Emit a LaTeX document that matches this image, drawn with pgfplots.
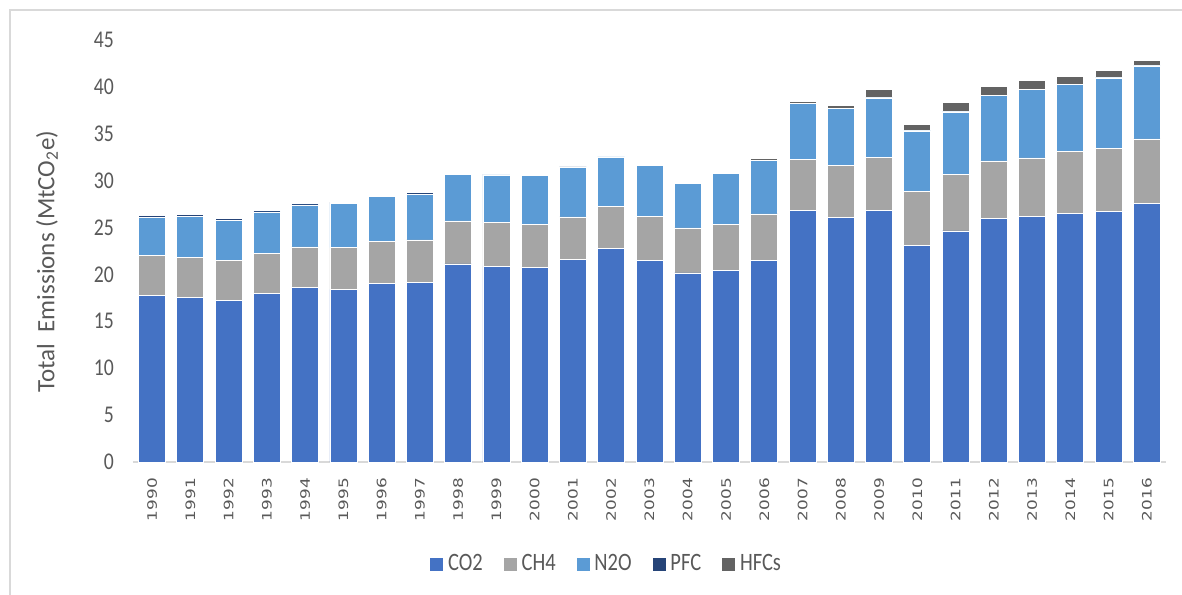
\documentclass[border=0pt]{standalone}
\usepackage{pgfplots}
\pgfplotsset{compat=1.18}
\usepackage{pgfplotstable}
\usepackage{fontspec}
\setmainfont{Carlito}
\newfontfamily\condfont{Carlito}[FakeStretch=0.82]
\newfontfamily\yearfont{DejaVu Sans}[FakeStretch=1.3]
\definecolor{co2}{HTML}{4472C4}
\definecolor{ch4}{HTML}{A5A5A5}
\definecolor{n2o}{HTML}{5B9BD5}
\definecolor{pfc}{HTML}{264478}
\definecolor{hfc}{HTML}{636363}
\definecolor{txt}{HTML}{595959}
\definecolor{lgrid}{HTML}{D9D9D9}

% emissions by gas, MtCO2e
\pgfplotstableread{
year CO2 CH4 N2O PFC HFC
1990 17.77 4.23 4.12 0.18 0
1991 17.53 4.26 4.41 0.21 0
1992 17.24 4.23 4.30 0.20 0
1993 17.99 4.23 4.44 0.18 0
1994 18.63 4.30 4.48 0.14 0
1995 18.41 4.45 4.73 0.10 0
1996 19.05 4.45 4.83 0.14 0
1997 19.16 4.52 4.87 0.17 0
1998 21.12 4.58 5.01 0.05 0
1999 20.87 4.65 5.09 0.07 0
2000 20.76 4.55 5.23 0.04 0
2001 21.61 4.52 5.30 0.03 0
2002 22.82 4.41 5.30 0.05 0.02
2003 21.51 4.65 5.48 0.03 0.02
2004 20.16 4.80 4.72 0.02 0.02
2005 20.44 4.87 5.48 0.02 0.07
2006 21.51 4.94 5.69 0.02 0.17
2007 26.80 5.51 5.91 0.02 0.21
2008 26.09 5.55 6.04 0.02 0.36
2009 26.80 5.66 6.36 0.02 0.85
2010 23.11 5.72 6.47 0.02 0.68
2011 24.64 6.00 6.69 0.02 1.03
2012 25.99 6.11 6.97 0.02 0.96
2013 26.20 6.22 7.32 0.02 0.89
2014 26.52 6.58 7.18 0.02 0.78
2015 26.73 6.69 7.53 0.02 0.75
2016 27.59 6.86 7.78 0.02 0.60
}\data

\begin{document}
\begin{tikzpicture}
\useasboundingbox (-66.5pt,-66pt) rectangle (524.5pt,231pt);
\draw[lgrid,line width=0.6pt] (-61.5pt,-70pt) -- (-61.5pt,226pt) -- (530pt,226pt);
\begin{axis}[at={(0,0)},anchor=south west,scale only axis,
  width=516.5pt,height=211pt,
  ybar stacked,bar width=13.5pt,
  xmin=-0.5,xmax=26.5,ymin=0,ymax=45,
  ytick={0,5,...,45},
  xtick=data,xticklabels from table={\data}{year},
  axis x line*=bottom,axis y line*=left,
  x axis line style={lgrid,line width=1pt},
  y axis line style={draw=none},
  major tick length=0pt,
  /pgf/number format/assume math mode=true,
  yticklabel style={font=\condfont\fontsize{12}{14}\selectfont,text=txt,xshift=-6pt},
  xticklabel shift=4.5pt,
  xticklabel style={font=\yearfont\fontsize{6.5}{8}\selectfont,text=txt,rotate=90,anchor=east},
  ylabel={Total\ \ Emissions (MtCO\textsubscript{2}e)},
  ylabel style={at={([xshift=-43pt]rel axis cs:0,0.475)},anchor=center,rotate=0,
    font=\fontsize{12.5}{14}\selectfont,text=txt},
  legend columns=-1,
  legend style={at={(0.459,-0.242)},anchor=center,draw=none,fill=none,
    font=\condfont\fontsize{12.5}{14}\selectfont,text=txt,
    /tikz/every even column/.append style={column sep=8pt}},
  legend image code/.code={\fill[#1] (0pt,-3.5pt) rectangle (7pt,3.5pt);},
  every axis plot/.append style={draw=white,line width=0.4pt},
]
\addplot[fill=co2] table[x expr=\coordindex,y=CO2] {\data};
\addplot[fill=ch4] table[x expr=\coordindex,y=CH4] {\data};
\addplot[fill=n2o] table[x expr=\coordindex,y=N2O] {\data};
\addplot[fill=pfc] table[x expr=\coordindex,y=PFC] {\data};
\addplot[fill=hfc] table[x expr=\coordindex,y=HFC] {\data};
\legend{CO2,CH4,N2O,PFC,HFCs}
\end{axis}
\end{tikzpicture}
\end{document}
